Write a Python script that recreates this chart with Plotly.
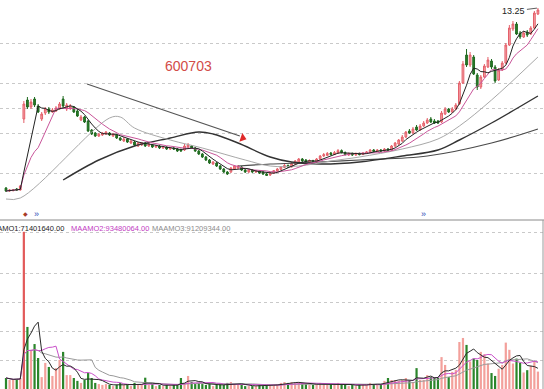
import plotly.graph_objects as go
import pandas as pd

# ---------------- data ----------------
opens = [4.25, 4.10, 4.12, 4.20, 4.15, 7.70, 8.65, 8.30, 8.70, 8.35,
         7.70, 8.00, 8.20, 8.05, 8.10, 8.20, 8.70, 8.20, 8.25, 8.30,
         8.10, 7.65, 7.80, 7.60, 7.15, 7.00, 6.85, 6.90, 6.95, 7.00,
         6.85, 6.90, 6.75, 6.60, 6.70, 6.50, 6.55, 6.35, 6.40, 6.50,
         6.35, 6.40, 6.30, 6.35, 6.25, 6.30, 6.20, 6.25, 6.20, 6.18,
         6.15, 6.30, 6.35, 6.25, 6.10, 5.95, 5.80, 5.65, 5.45, 5.50,
         5.35, 5.20, 5.05, 5.05, 5.20, 5.25, 5.30, 5.15, 5.05, 5.15,
         5.05, 5.10, 5.05, 4.95, 4.90, 5.00, 5.10, 5.18, 5.28, 5.38,
         5.30, 5.45, 5.55, 5.70, 5.65, 5.55, 5.62, 5.55, 5.70, 5.85,
         5.88, 6.00, 5.92, 6.00, 6.12, 6.02, 5.90, 5.98, 5.90, 5.98,
         5.92, 6.00, 6.05, 6.15, 6.08, 6.15, 6.10, 6.20, 6.15, 6.35,
         6.45, 6.60, 6.80, 7.10, 7.00, 7.30, 7.15, 7.35, 7.50, 7.70,
         7.60, 7.60, 7.55, 7.95, 8.20, 8.05, 8.20, 8.45, 9.50, 10.90,
         10.40, 10.80, 9.90, 9.30, 9.80, 10.30, 10.60, 10.30, 9.65, 10.15,
         10.50, 11.40, 12.20, 12.45, 12.00, 11.80, 12.05, 11.95, 12.25, 12.95]
highs = [4.30, 4.20, 4.20, 4.25, 4.40, 8.60, 8.80, 8.70, 8.80, 8.45,
         8.05, 8.30, 8.30, 8.25, 8.35, 8.55, 8.85, 8.50, 8.45, 8.35,
         8.20, 7.90, 7.85, 7.65, 7.20, 7.05, 7.00, 7.05, 7.10, 7.05,
         7.00, 6.95, 6.80, 6.80, 6.75, 6.65, 6.60, 6.55, 6.55, 6.55,
         6.50, 6.45, 6.40, 6.40, 6.35, 6.35, 6.30, 6.30, 6.25, 6.22,
         6.45, 6.50, 6.40, 6.30, 6.15, 6.00, 5.85, 5.70, 5.60, 5.55,
         5.40, 5.25, 5.10, 5.30, 5.40, 5.40, 5.35, 5.20, 5.20, 5.20,
         5.15, 5.15, 5.10, 5.00, 5.05, 5.15, 5.25, 5.35, 5.45, 5.42,
         5.55, 5.65, 5.75, 5.75, 5.70, 5.68, 5.66, 5.75, 5.90, 6.00,
         6.05, 6.05, 6.10, 6.20, 6.18, 6.08, 6.02, 6.02, 6.02, 6.02,
         6.05, 6.10, 6.20, 6.20, 6.20, 6.20, 6.25, 6.25, 6.40, 6.55,
         6.70, 6.90, 7.10, 7.20, 7.30, 7.40, 7.45, 7.60, 7.75, 7.80,
         7.70, 7.65, 8.10, 8.30, 8.25, 8.30, 8.50, 9.60, 10.60, 11.20,
         11.05, 10.90, 10.00, 9.90, 10.45, 10.80, 10.70, 10.40, 10.25, 10.60,
         11.50, 12.40, 12.60, 12.55, 12.10, 12.10, 12.15, 12.35, 13.10, 13.25]
lows = [4.05, 4.05, 4.08, 4.10, 4.12, 7.50, 8.20, 8.20, 8.30, 8.00,
        7.60, 7.90, 7.95, 8.00, 8.05, 8.15, 8.25, 8.10, 8.15, 8.00,
        7.80, 7.60, 7.50, 7.05, 6.90, 6.80, 6.80, 6.85, 6.90, 6.85,
        6.80, 6.70, 6.60, 6.55, 6.50, 6.45, 6.35, 6.30, 6.35, 6.30,
        6.30, 6.25, 6.25, 6.20, 6.20, 6.15, 6.15, 6.15, 6.05, 6.05,
        6.10, 6.25, 6.20, 6.05, 5.90, 5.75, 5.60, 5.45, 5.40, 5.30,
        5.15, 5.00, 4.90, 5.00, 5.15, 5.20, 5.10, 5.00, 5.00, 5.00,
        5.00, 4.95, 4.90, 4.85, 4.85, 4.95, 5.05, 5.15, 5.25, 5.25,
        5.28, 5.40, 5.50, 5.55, 5.50, 5.50, 5.48, 5.50, 5.65, 5.80,
        5.85, 5.88, 5.90, 5.95, 5.98, 5.88, 5.85, 5.85, 5.86, 5.88,
        5.90, 5.95, 6.00, 6.05, 6.05, 6.05, 6.05, 6.08, 6.10, 6.30,
        6.40, 6.55, 6.75, 6.95, 6.95, 7.10, 7.10, 7.30, 7.45, 7.50,
        7.45, 7.45, 7.50, 7.90, 8.00, 8.00, 8.15, 8.40, 9.45, 10.30,
        10.30, 9.90, 9.15, 9.20, 9.75, 10.25, 10.20, 9.50, 9.60, 10.10,
        10.45, 11.35, 12.10, 11.90, 11.70, 11.75, 11.80, 11.90, 12.20, 12.90]
closes = [4.10, 4.15, 4.15, 4.15, 4.35, 8.45, 8.30, 8.55, 8.40, 8.05,
          7.95, 8.20, 8.05, 8.15, 8.25, 8.45, 8.35, 8.40, 8.35, 8.05,
          7.85, 7.80, 7.55, 7.10, 6.95, 6.85, 6.95, 7.00, 7.05, 6.90,
          6.95, 6.75, 6.65, 6.70, 6.55, 6.60, 6.40, 6.50, 6.50, 6.35,
          6.45, 6.30, 6.35, 6.25, 6.30, 6.20, 6.25, 6.20, 6.10, 6.10,
          6.35, 6.40, 6.25, 6.10, 5.95, 5.80, 5.65, 5.50, 5.55, 5.35,
          5.20, 5.05, 4.95, 5.25, 5.35, 5.35, 5.15, 5.05, 5.15, 5.05,
          5.10, 5.00, 4.95, 4.88, 5.00, 5.12, 5.20, 5.30, 5.38, 5.30,
          5.48, 5.60, 5.70, 5.60, 5.55, 5.62, 5.52, 5.70, 5.85, 5.92,
          5.98, 5.92, 6.02, 6.12, 6.02, 5.92, 5.98, 5.90, 5.98, 5.92,
          6.00, 6.05, 6.15, 6.08, 6.15, 6.10, 6.20, 6.12, 6.35, 6.50,
          6.65, 6.80, 7.05, 7.00, 7.20, 7.15, 7.35, 7.50, 7.65, 7.55,
          7.50, 7.50, 8.00, 8.20, 8.05, 8.20, 8.40, 9.50, 10.45, 10.40,
          10.90, 9.95, 9.30, 9.80, 10.35, 10.65, 10.30, 9.60, 10.15, 10.50,
          11.40, 12.25, 12.45, 11.95, 11.80, 12.00, 11.90, 12.25, 13.00, 13.15]
# traded amount, millions of yuan
amount = [38, 31, 31, 35, 38, 542, 214, 135, 155, 107,
          41, 90, 76, 45, 72, 100, 128, 48, 48, 38,
          28, 21, 31, 55, 38, 21, 17, 14, 17, 14,
          10, 14, 21, 14, 17, 10, 21, 17, 14, 39,
          14, 17, 10, 14, 10, 14, 10, 14, 17, 38,
          21, 45, 24, 17, 21, 17, 14, 17, 10, 14,
          17, 14, 21, 24, 17, 14, 14, 10, 10, 10,
          10, 14, 10, 14, 14, 14, 17, 21, 24, 21,
          24, 21, 24, 21, 17, 14, 14, 17, 21, 17,
          14, 17, 14, 21, 17, 14, 10, 14, 10, 14,
          17, 14, 21, 17, 14, 17, 28, 38, 31, 31,
          28, 31, 38, 28, 24, 72, 31, 31, 48, 41,
          41, 38, 110, 83, 41, 59, 66, 162, 176, 152,
          95, 105, 100, 128, 120, 88, 55, 45, 70, 83,
          160, 135, 88, 105, 90, 57, 65, 80, 95, 60]

# longer moving averages (bar index, price)
ma20_x = [0, 4, 29, 32, 36, 46, 55, 67, 74, 82, 91, 99, 111, 121, 127, 136, 149]
ma20_y = [3.70, 3.75, 7.75, 7.80, 7.25, 6.65, 6.25, 5.65, 5.35, 5.35, 5.60, 5.80, 6.20, 6.70, 7.35, 8.65, 10.80]
ma60_x = [16, 26, 36, 46, 54, 58, 65, 74, 80, 88, 99, 111, 121, 127, 136, 149]
ma60_y = [4.65, 5.65, 6.35, 6.75, 7.05, 6.95, 6.50, 5.80, 5.55, 5.45, 5.55, 5.85, 6.15, 6.65, 7.50, 8.85]
ma120_x = [65, 74, 82, 99, 118, 136, 149]
ma120_y = [5.35, 5.45, 5.50, 5.65, 5.85, 6.50, 7.20]
trend_x = [22.7, 65.5]
trend_y = [9.45, 6.85]

price_grid = [5.0, 7.0, 8.25, 9.5, 11.5]
amount_grid = [100, 200, 300, 400, 538]
legend_labels = ["MAAMO1:71401640.00", "MAAMO2:93480064.00", "MAAMO3:91209344.00"]
stock_code = "600703"
high_label = "13.25"

# ---------------- figure ----------------
W, H = 544, 389
SPLIT = 220  # pixel row of the panel separator
idx = list(range(len(closes)))
ma5 = pd.Series(closes).rolling(5, min_periods=1).mean()
ma10 = pd.Series(closes).rolling(10, min_periods=1).mean()
am = pd.Series(amount)
am5 = am.rolling(5, min_periods=1).mean()
am10 = am.rolling(10, min_periods=1).mean()
am20 = am.rolling(20, min_periods=1).mean()

UP_LINE, UP_FILL = "#e4606a", "#f5a3a8"
DN_LINE, DN_FILL = "#1f6a1f", "#2c7d2c"

fig = go.Figure()

# price panel lines (behind candles)
fig.add_trace(go.Scatter(x=ma120_x, y=ma120_y, mode="lines", line=dict(color="#4a4a4a", width=1.2, shape="spline"),
                         xaxis="x", yaxis="y", hoverinfo="skip"))
fig.add_trace(go.Scatter(x=ma60_x, y=ma60_y, mode="lines", line=dict(color="#333333", width=1.4, shape="spline"),
                         xaxis="x", yaxis="y", hoverinfo="skip"))
fig.add_trace(go.Scatter(x=ma20_x, y=ma20_y, mode="lines", line=dict(color="#a8a8a8", width=1, shape="spline"),
                         xaxis="x", yaxis="y", hoverinfo="skip"))
fig.add_trace(go.Scatter(x=idx, y=ma10, mode="lines", line=dict(color="#c9559a", width=1),
                         xaxis="x", yaxis="y", hoverinfo="skip"))
fig.add_trace(go.Scatter(x=idx, y=ma5, mode="lines", line=dict(color="#222222", width=1),
                         xaxis="x", yaxis="y", hoverinfo="skip"))
fig.add_trace(go.Candlestick(x=idx, open=opens, high=highs, low=lows, close=closes,
                             increasing=dict(line=dict(color=UP_LINE, width=1), fillcolor=UP_FILL),
                             decreasing=dict(line=dict(color=DN_LINE, width=1), fillcolor=DN_FILL),
                             whiskerwidth=0, xaxis="x", yaxis="y", hoverinfo="skip"))
# hand-drawn trend line with red arrow head
fig.add_trace(go.Scatter(x=trend_x, y=trend_y, mode="lines", line=dict(color="#555555", width=1.2),
                         xaxis="x", yaxis="y", hoverinfo="skip"))
fig.add_trace(go.Scatter(x=[trend_x[-1] + 0.8], y=[trend_y[-1] - 0.1], mode="markers",
                         marker=dict(symbol="triangle-right", size=8, color="#e02a2a", angle=19),
                         xaxis="x", yaxis="y", hoverinfo="skip"))

# amount panel
bar_colors = []
for i, (o, c) in enumerate(zip(opens, closes)):
    if amount[i] == max(amount):
        bar_colors.append("#e25a5a")
    elif c >= o:
        bar_colors.append("#f3a09b")
    else:
        bar_colors.append("#2b862b")
fig.add_trace(go.Bar(x=idx, y=amount, marker=dict(color=bar_colors, line=dict(width=0)),
                     xaxis="x2", yaxis="y2", hoverinfo="skip"))
fig.add_trace(go.Scatter(x=idx, y=am20, mode="lines", line=dict(color="#9a9a9a", width=1),
                         xaxis="x2", yaxis="y2", hoverinfo="skip"))
fig.add_trace(go.Scatter(x=idx, y=am10, mode="lines", line=dict(color="#c94fc9", width=1),
                         xaxis="x2", yaxis="y2", hoverinfo="skip"))
fig.add_trace(go.Scatter(x=idx, y=am5, mode="lines", line=dict(color="#2a2a2a", width=1),
                         xaxis="x2", yaxis="y2", hoverinfo="skip"))

x0 = -6 / 3.57
x1 = x0 + W / 3.57
split_frac = 1 - SPLIT / H

axis_common = dict(showticklabels=False, zeroline=False, showline=False, ticks="")
fig.update_layout(
    width=W, height=H, margin=dict(l=0, r=0, t=0, b=0),
    paper_bgcolor="white", plot_bgcolor="white", showlegend=False,
    bargap=0.38,
    font=dict(family="Liberation Sans, Arial, sans-serif"),
    xaxis=dict(domain=[0, 1], range=[x0, x1], anchor="y", showgrid=False, rangeslider=dict(visible=False), **axis_common),
    xaxis2=dict(domain=[0, 1], range=[x0, x1], anchor="y2", showgrid=False, matches="x", **axis_common),
    yaxis=dict(domain=[split_frac, 1], range=[13.65 - SPLIT / 20, 13.65], tickvals=price_grid,
               showgrid=True, gridcolor="#c9c9c9", griddash="dot", gridwidth=1, **axis_common),
    yaxis2=dict(domain=[0, split_frac], range=[0, (H - SPLIT) / 29 * 100], tickvals=amount_grid,
                showgrid=True, gridcolor="#c9c9c9", griddash="dot", gridwidth=1, **axis_common),
)

shapes = [
    dict(type="line", xref="paper", yref="paper", x0=0, x1=1, y0=split_frac, y1=split_frac,
         line=dict(color="#8a8a8a", width=1)),
    dict(type="line", xref="paper", yref="paper", x0=543 / W, x1=543 / W, y0=0, y1=split_frac,
         line=dict(color="#9a9a9a", width=1)),
]
fig.update_layout(shapes=shapes)

ann = []
ann.append(dict(x=51, y=10.35, xref="x", yref="y", text=stock_code, showarrow=False,
                font=dict(size=14, color="#d24c48")))
ann.append(dict(x=idx[-1], y=max(highs), xref="x", yref="y", text=high_label, showarrow=True,
                ax=-24, ay=3, arrowhead=0, arrowwidth=0.8, arrowcolor="#333333", standoff=1,
                font=dict(size=9, color="#222222")))
leg_y = 1 - 228 / H
leg_x = [-16, 69, 150]
leg_col = ["#222222", "#c23ac2", "#8c8c8c"]
for lab, lx, lc in zip(legend_labels, leg_x, leg_col):
    ann.append(dict(x=lx / W, y=leg_y, xref="paper", yref="paper", text=lab, showarrow=False,
                    xanchor="left", yanchor="middle", font=dict(size=7.5, color=lc)))
mk_y = 1 - 214 / H
ann.append(dict(x=21 / W, y=mk_y, xref="paper", yref="paper", text="◆", showarrow=False,
                font=dict(size=6, color="#a83a2a")))
for mx in [32, 428]:
    ann.append(dict(x=mx / W, y=mk_y, xref="paper", yref="paper", text="»", showarrow=False,
                    font=dict(size=9, color="#2e4bb8")))
fig.update_layout(annotations=ann)

fig.write_html("out.html")
